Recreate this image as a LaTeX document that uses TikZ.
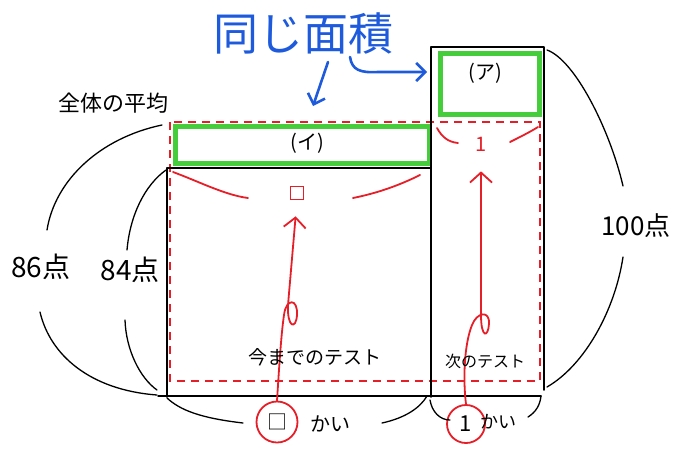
\documentclass[tikz,border=0pt]{standalone}
\usepackage{fontspec}
\setmainfont{Noto Sans CJK JP}
\usetikzlibrary{arrows.meta}
\definecolor{myred}{RGB}{230,30,40}
\definecolor{mygreen}{RGB}{70,205,60}
\definecolor{myblue}{RGB}{30,90,220}
\newcommand{\fs}[1]{\fontsize{#1}{#1}\selectfont}
\begin{document}
\begin{tikzpicture}[x=1pt,y=-1pt,
  blk/.style={black, line width=1.5pt, line cap=round, line join=round},
  arcline/.style={black, line width=1.3pt, line cap=round},
  reddash/.style={myred, line width=2pt, dash pattern=on 8pt off 6pt},
  redline/.style={myred, line width=1.8pt, line cap=round},
  redarrow/.style={redline, -{Straight Barb[length=10pt,width=22pt,line width=1.8pt]}},
  bluearrow/.style={myblue, line width=2.6pt, line cap=round, -{Straight Barb[length=9pt,width=18pt,line width=2.6pt]}},
  greenbox/.style={draw=mygreen, line width=5pt, inner sep=0pt},
  redcirc/.style={draw=myred, line width=1.8pt, circle, inner sep=0pt, text=black},
  lbl/.style={inner sep=0pt}
]
\useasboundingbox (0,0) rectangle (677,450);

% green boxes
\node[greenbox, minimum width=254pt, minimum height=37pt] (gI) at (302,144.5) {};
\node[greenbox, minimum width=99pt, minimum height=61pt] (gA) at (489.5,83.5) {};
\node[lbl] (tI) at (307,143) {\fs{20}(イ)};
\node[lbl] (tA) at (485,73) {\fs{20}(ア)};

% red dashed outline of the average
\draw[reddash] (170,122) rectangle (540,381);

% black rectangles
\draw[blk] (431,168) -- (167,168) -- (167,397);
\draw[blk] (431,397) -- (431,47) -- (544,47) -- (544,390);
\draw[blk] (158,396) -- (541,396);

% red arcs
\draw[redline] (173,172) .. controls (200,182) and (225,195) .. (248,198);
\draw[redline] (353,198) .. controls (378,193) and (400,185) .. (420,175);
\draw[redline] (437,128) .. controls (442,137) and (448,142) .. (458,143);
\draw[redline] (510,142) .. controls (520,137) and (530,132) .. (538,127);

% red markers
\node[draw=myred, line width=1.8pt, minimum size=13pt, inner sep=0pt] (q1) at (297,193) {};
\node[lbl, text=myred] (q2) at (481,144) {\fs{20}1};

% circles at the bottom
\node[redcirc, minimum size=41pt] (c1) at (277,422) {\fs{20}□};
\node[redcirc, minimum size=38pt] (c2) at (466,424) {\fs{22}1};

% red arrows with loops
\draw[redarrow, shorten >=16pt] (c1.north) .. controls (279,370) and (281,335) .. (284,315)
  .. controls (286,298) and (298,298) .. (297,315)
  .. controls (296,330) and (287,328) .. (288,305) -- (q1.south);
\draw[redarrow, shorten >=20pt] (c2.north) .. controls (463,380) and (464,345) .. (472,325)
  .. controls (477,312) and (490,310) .. (489,324)
  .. controls (488,338) and (481,338) .. (481,315) -- (q2.south);

% blue text and arrows
\node[lbl, text=myblue] (blue) at (303,33) {\fs{45}同じ面積};
\coordinate (b1s) at (328,62);
\coordinate (b1e) at (313,106);
\coordinate (b2s) at (350,57);
\coordinate (b2e) at (427,72);
\draw[bluearrow] (b1s) -- (b1e);
\draw[bluearrow] (b2s) .. controls (352,70) and (360,73) .. (378,72) -- (b2e);

% black arcs
\draw[arcline] (162,125) .. controls (100,138) and (55,180) .. (47,230);
\draw[arcline] (40,312) .. controls (50,355) and (90,390) .. (157,395);
\draw[arcline] (166,170) .. controls (145,185) and (130,215) .. (127,250);
\draw[arcline] (125,320) .. controls (126,350) and (140,378) .. (157,390);
\draw[arcline] (547,50) .. controls (575,60) and (610,130) .. (623,186);
\draw[arcline] (623,257) .. controls (615,310) and (585,365) .. (547,387);

% braces
\draw[arcline] (167,398) .. controls (180,410) and (200,418) .. (243,423);
\draw[arcline] (382,423) .. controls (405,418) and (420,408) .. (427,396);
\draw[arcline] (430,400) .. controls (432,412) and (440,420) .. (450,420);
\draw[arcline] (528,417) .. controls (536,412) and (540,405) .. (541,396);

% texts
\node[lbl] (avg) at (113,103) {\fs{22}全体の平均};
\node[lbl] (p86) at (41,267) {\fs{28}86点};
\node[lbl] (p84) at (130,270) {\fs{28}84点};
\node[lbl] (p100) at (636,226) {\fs{26}100点};
\node[lbl] (prev) at (315,357) {\fs{19}今までのテスト};
\node[lbl] (next) at (485,361) {\fs{16}次のテスト};
\node[lbl] (k1) at (330,424) {\fs{20}かい};
\node[lbl] (k2) at (498,422) {\fs{18}かい};
\end{tikzpicture}
\end{document}
